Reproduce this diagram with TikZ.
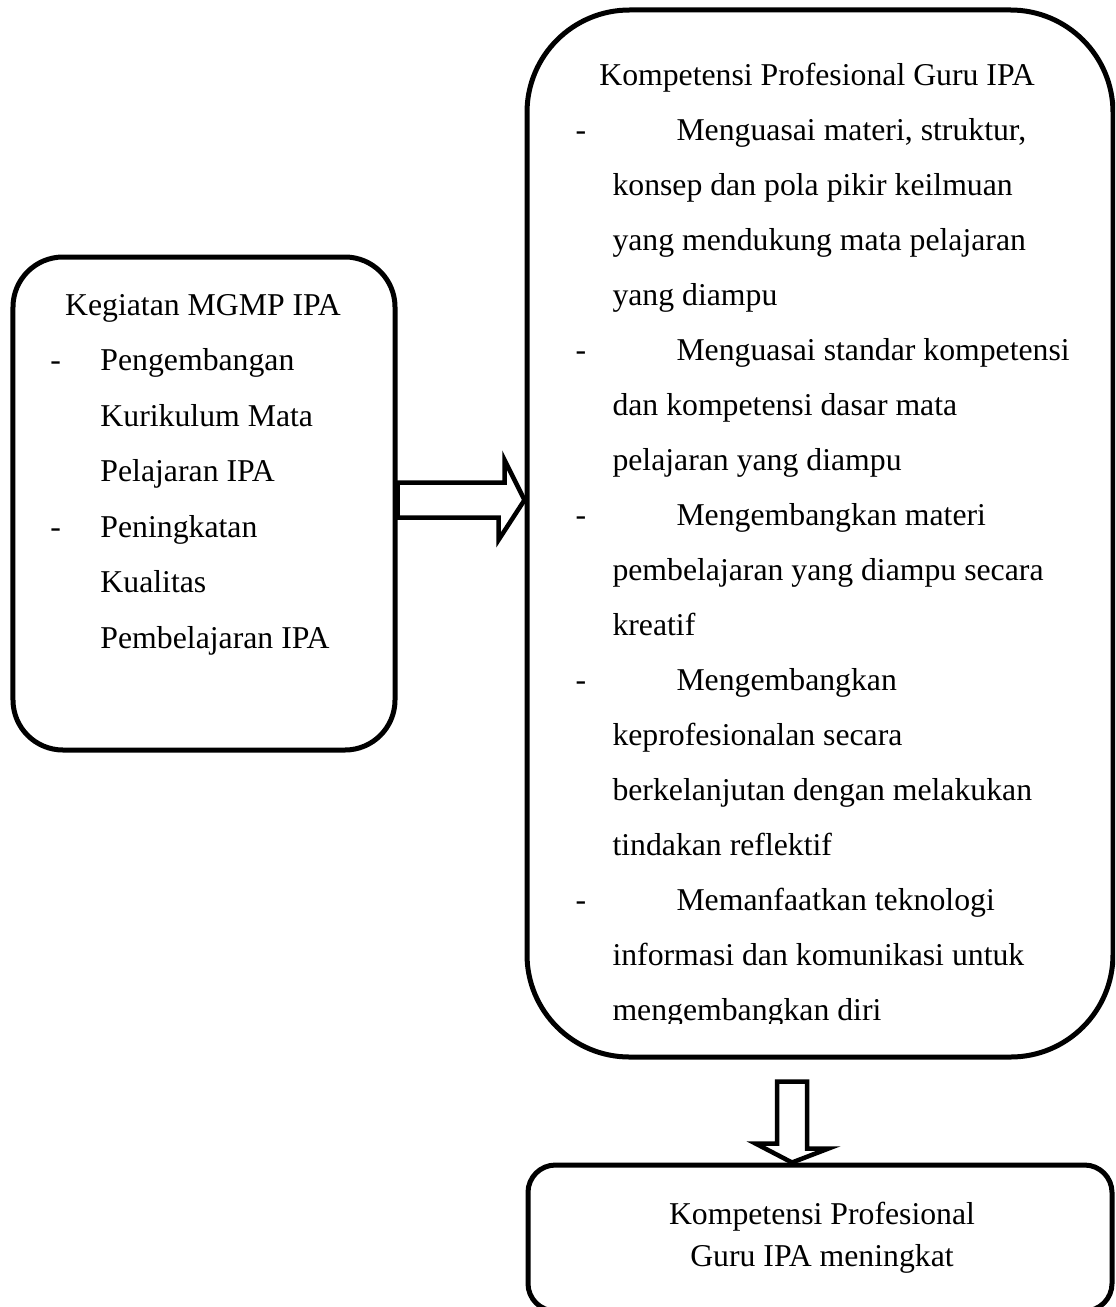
\documentclass[tikz,border=0pt]{standalone}
\usepackage{fontspec}
\setmainfont{Liberation Serif}
\usetikzlibrary{calc}
\tikzset{
    panel/.style={
           rectangle,
           draw=black,
           line width=2pt,
           inner sep=0pt,
           },
    lines/.style={
           align=left,
           inner sep=0pt,
           font=\fontsize{12.7pt}{22pt}\selectfont,
           },
}
\newcommand{\firstdash}{\makebox[40.4pt][l]{-}}
\newcommand{\hangline}{\hspace*{14.8pt}}
\newcommand{\mgmpdash}{\makebox[20pt][l]{-}}
\newcommand{\mgmpindent}{\hspace*{20pt}}

\begin{document}
\begin{tikzpicture}[
  x=0.4pt,y=-0.4pt,
  hollow/.style={draw=black,line width=1.8pt,fill=white,line join=miter}]
\useasboundingbox (0,0) rectangle (1115,1307);
\clip (0,0) rectangle (1115,1307);
% boxes
\node[panel,rounded corners=20pt,minimum width=152.8pt,minimum height=197.2pt](mgmp) at (204,503.5){};
\node[panel,rounded corners=41pt,minimum width=234.4pt,minimum height=418.8pt](kompetensi) at (820,533.5){};
\node[panel,rounded corners=11pt,minimum width=233.6pt,minimum height=58.4pt](meningkat) at (820,1238){};
% texts (multi-line nodes sit on their last line)
\node[lines,anchor=base](mgmptitle) at (203,315){Kegiatan MGMP IPA};
\node[lines,anchor=base west,font=\fontsize{12.7pt}{22.2pt}\selectfont](mgmplist) at (50,648){%
\mgmpdash Pengembangan\\
\mgmpindent Kurikulum Mata\\
\mgmpindent Pelajaran IPA\\
\mgmpdash Peningkatan\\
\mgmpindent Kualitas\\
\mgmpindent Pembelajaran IPA};
\node[lines,anchor=base](kompetensititle) at (817,85){Kompetensi Profesional Guru IPA};
\begin{scope}
\clip (527,0) rectangle (1113,1023);
\node[lines,anchor=base west](kompetensilist) at (575,1020){%
\firstdash Menguasai materi, struktur,\\
\hangline konsep dan pola pikir keilmuan\\
\hangline yang mendukung mata pelajaran\\
\hangline yang diampu\\
\firstdash Menguasai standar kompetensi\\
\hangline dan kompetensi dasar mata\\
\hangline pelajaran yang diampu\\
\firstdash Mengembangkan materi\\
\hangline pembelajaran yang diampu secara\\
\hangline kreatif\\
\firstdash Mengembangkan\\
\hangline keprofesionalan secara\\
\hangline berkelanjutan dengan melakukan\\
\hangline tindakan reflektif\\
\firstdash Memanfaatkan teknologi\\
\hangline informasi dan komunikasi untuk\\
\hangline mengembangkan diri};
\end{scope}
\node[lines,align=center,anchor=base,font=\fontsize{12.7pt}{16.8pt}\selectfont](meningkattext) at (822,1266){Kompetensi Profesional\\Guru IPA meningkat};
% block arrows
\draw[hollow] (mgmp.east |- 0,500) ++(0,-17.5) -- ++(107,0) -- ++(0,-22.5)
  -- (kompetensi.west |- 0,500) -- ++(-26,40) -- ++(0,-22.5)
  -- ($(mgmp.east |- 0,500)+(0,17.5)$) -- cycle;
\coordinate (down) at ($(kompetensi.south)+(-28,22)$);
\draw[hollow] (down) ++(-15,0) -- ++(30,0) -- ++(0,67) -- ++(21.5,0)
  -- (meningkat.north -| down) -- ++(-36.5,-19) -- ++(21.5,0) -- cycle;
\end{tikzpicture}
\end{document}
